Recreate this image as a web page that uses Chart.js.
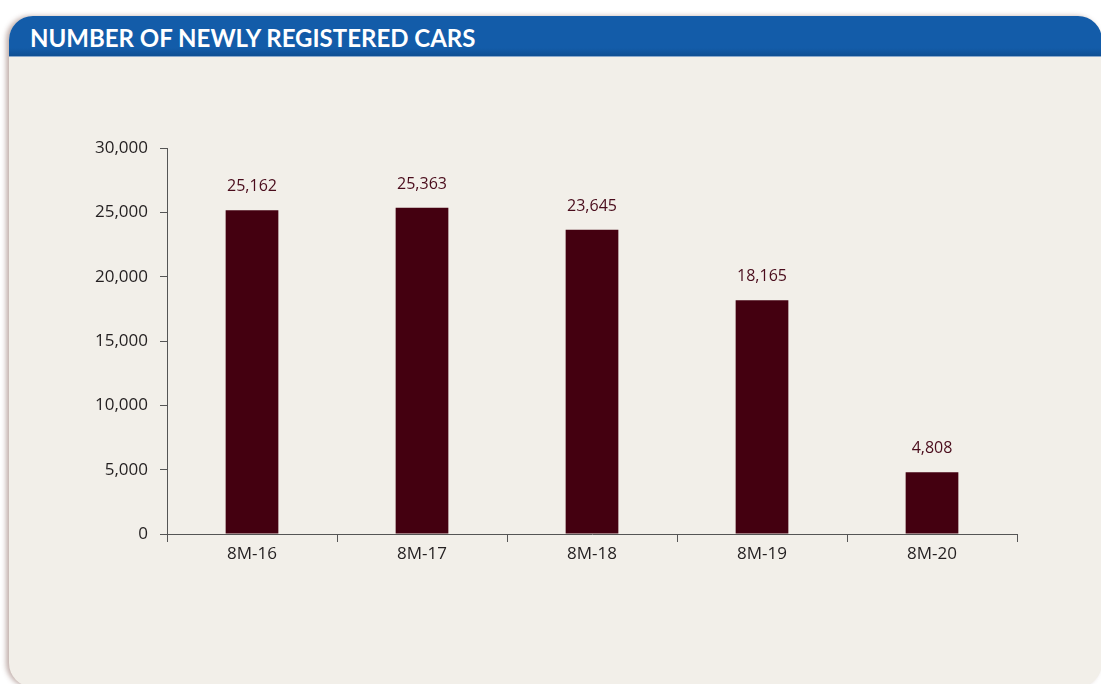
<!DOCTYPE html>
<html>
<head>
<meta charset="utf-8">
<script src="https://cdn.jsdelivr.net/npm/chart.js@4"></script>
<style>
  html, body { margin: 0; padding: 0; background: #fff; width: 1101px; height: 684px; overflow: hidden; }
  .panel {
    position: absolute; left: 9px; top: 16px; width: 1093px; height: 671px;
    background: #f2efe9; border-radius: 24px; overflow: hidden;
    box-shadow: -3px 0 5px rgba(120, 80, 70, 0.45);
  }
  .head {
    height: 40px; background: linear-gradient(#135ca9 80%, #0f4f93);
    border-bottom: 1px solid #8aa9cc;
    color: #fff; font: bold 24px Lato, sans-serif; line-height: 44px; padding-left: 21px;
  }
  #chart { position: absolute; left: 0; top: 0; }
</style>
</head>
<body>
<div class="panel"><div class="head">NUMBER OF NEWLY REGISTERED CARS</div></div>
<canvas id="chart" width="1101" height="684"></canvas>
<script>
    /* data */
    const periods = ['8M-16', '8M-17', '8M-18', '8M-19', '8M-20'];
    const newCars = [25162, 25363, 23645, 18165, 4808];
    const yTicks = [0, 5000, 10000, 15000, 20000, 25000, 30000];

    const fmt = v => v.toLocaleString('en-US');

    /* value labels above bars */
    const barLabels = {
        id: 'barLabels',
        afterDatasetsDraw(chart) {
            const ctx = chart.ctx;
            ctx.save();
            ctx.font = '16px "Open Sans", sans-serif';
            ctx.fillStyle = '#4a0c1c';
            ctx.textAlign = 'center';
            ctx.textBaseline = 'alphabetic';
            chart.getDatasetMeta(0).data.forEach((bar, i) => {
                ctx.fillText(fmt(newCars[i]), bar.x, bar.y - 19);
            });
            ctx.restore();
        }
    };

    new Chart(document.getElementById('chart'), {
        type: 'bar',
        data: {
            labels: periods,
            datasets: [{
                data: newCars,
                backgroundColor: '#440010',
                borderWidth: 0,
                barPercentage: 0.62,
                categoryPercentage: 0.5
            }]
        },
        options: {
            responsive: false,
            animation: false,
            layout: { padding: { top: 148, right: 84, left: 0, bottom: 0 } },
            plugins: { legend: { display: false }, tooltip: { enabled: false } },
            scales: {
                x: {
                    afterFit: s => { s.height = 150; },
                    grid: { drawOnChartArea: false, offset: true, tickLength: 8, color: '#555', lineWidth: 1 },
                    border: { color: '#555', width: 1 },
                    ticks: { color: '#231f20', padding: 2, font: { family: '"Open Sans", sans-serif', size: 17 } }
                },
                y: {
                    min: 0, max: 30000,
                    afterFit: s => { s.width = 167; },
                    afterBuildTicks: s => { s.ticks = yTicks.map(v => ({ value: v })); },
                    grid: { drawOnChartArea: false, tickLength: 7, color: '#555', lineWidth: 1 },
                    border: { color: '#555', width: 1 },
                    ticks: {
                        color: '#231f20', padding: 12,
                        font: { family: '"Open Sans", sans-serif', size: 17 },
                        callback: v => fmt(v)
                    }
                }
            }
        },
        plugins: [barLabels]
    });
</script>
</body>
</html>
